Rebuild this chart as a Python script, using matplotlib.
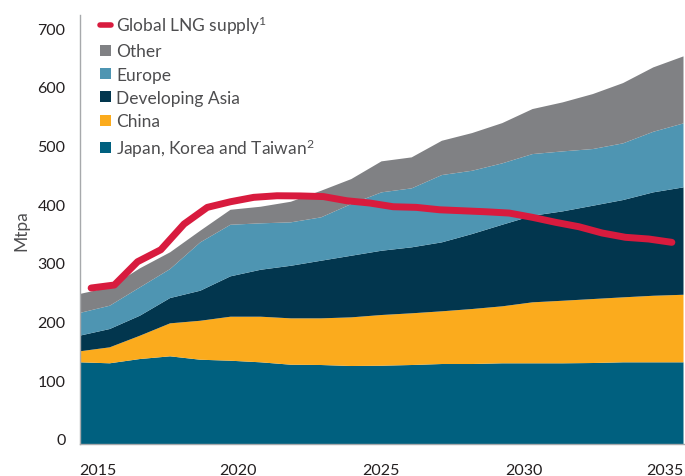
import numpy as np
import matplotlib
matplotlib.use("Agg")
import matplotlib.pyplot as plt
from matplotlib.patches import Patch
from matplotlib.lines import Line2D
from matplotlib.transforms import ScaledTranslation

plt.rcParams['font.family'] = ['Lato', 'DejaVu Sans']
plt.rcParams['mathtext.fontset'] = 'custom'
plt.rcParams['mathtext.rm'] = 'Lato'
plt.rcParams['mathtext.it'] = 'Lato'

years = list(range(2015, 2036))
japan_korea_taiwan = [139.2, 137.5, 144.8, 149.4, 143.6, 141.9, 139.2, 135.1, 134.6, 132.9,
                      133.4, 134.6, 136.3, 136.3, 137.5, 137.5, 137.5, 138.0, 139.2, 139.2, 139.2]
china = [18.7, 27.2, 39.7, 56.2, 66.4, 75.0, 77.7, 79.0, 79.5, 82.9,
         86.4, 88.1, 89.8, 93.7, 97.1, 103.9, 106.6, 109.0, 110.7, 113.4, 115.1]
developing_asia = [26.6, 31.2, 34.1, 43.1, 51.2, 68.8, 80.0, 89.6, 98.2, 105.0,
                   109.5, 112.4, 117.5, 127.8, 139.0, 147.5, 152.3, 159.0, 165.8, 176.2, 183.0]
europe = [38.7, 39.7, 48.3, 49.4, 82.4, 87.9, 79.1, 74.0, 73.9, 88.1,
          99.5, 100.5, 114.7, 107.8, 104.6, 105.1, 102.2, 96.6, 96.6, 103.2, 109.0]
other = [32.3, 31.3, 32.4, 28.5, 19.8, 25.5, 28.3, 35.1, 45.3, 42.5,
         52.8, 52.8, 58.4, 64.2, 68.6, 76.7, 83.5, 93.7, 102.7, 109.7, 114.2]
global_lng_supply = [265.8, 270.9, 310.6, 331.0, 374.8, 403.2, 412.8, 420.3, 423.0, 422.7,
                     421.6, 414.5, 410.6, 404.3, 403.2, 399.1, 397.4, 395.7, 393.5, 386.2,
                     377.7, 370.2, 359.5, 352.2, 349.3, 343.6]

y_ticks = [0, 100, 200, 300, 400, 500, 600, 700]
x_ticks = [2015, 2020, 2025, 2030, 2035]

c_jkt = '#00607f'
c_china = '#fbab1d'
c_dev = '#02364e'
c_eur = '#4e95b2'
c_other = '#808184'
c_line = '#d81b3e'
txt = '#231f20'

W, H = 685, 477
fig = plt.figure(figsize=(W/100, H/100), dpi=100)
ax = fig.add_axes([79.5/W, (H-445)/H, (683.5-79.5)/W, (445-16)/H])

ax.stackplot(years, japan_korea_taiwan, china, developing_asia, europe, other,
             colors=[c_jkt, c_china, c_dev, c_eur, c_other], linewidth=0)
ax.set_xlim(2015, 2035)
ax.set_ylim(0, 731)

ax2 = ax.twiny()
ax2.set_xlim(-0.5, len(global_lng_supply) - 0.5)
ax2.plot(np.arange(len(global_lng_supply)), global_lng_supply, color=c_line, lw=5,
         solid_capstyle='round', solid_joinstyle='round')
ax2.axis('off')
ax2.set_ylim(0, 731)

for sp in ['top', 'right']:
    ax.spines[sp].set_visible(False)
for sp in ['left', 'bottom']:
    ax.spines[sp].set_color('#a7a9ac')
    ax.spines[sp].set_linewidth(1.0)

ax.set_yticks(y_ticks)
ax.set_yticklabels([str(v) for v in y_ticks])
ax.tick_params(axis='y', length=0, pad=10, labelsize=11.5, labelcolor=txt)
for lab in ax.get_yticklabels():
    lab.set_transform(lab.get_transform() + ScaledTranslation(0, 5/100, fig.dpi_scale_trans))

ax.set_xticks(x_ticks)
ax.set_xticklabels([str(v) for v in x_ticks])
ax.tick_params(axis='x', length=0, pad=14, labelsize=11.5, labelcolor=txt)
xlabs = ax.get_xticklabels()
offsets = [0, 7, -1, -9, 0]
for lab, off in zip(xlabs, offsets):
    lab.set_transform(lab.get_transform() + ScaledTranslation(off/100, 0, fig.dpi_scale_trans))
xlabs[0].set_ha('left')
xlabs[-1].set_ha('right')

ax.set_ylabel('Mtpa', fontsize=12.5, color='#4d4d4f', labelpad=6)

handles = [
    Line2D([0], [0], color=c_line, lw=4, solid_capstyle='round'),
    Patch(facecolor=c_other),
    Patch(facecolor=c_eur),
    Patch(facecolor=c_dev),
    Patch(facecolor=c_china),
    Patch(facecolor=c_jkt),
]
labels = ['Global LNG supply$^{1}$', 'Other', 'Europe', 'Developing Asia', 'China',
          'Japan, Korea and Taiwan$^{2}$']
leg = ax.legend(handles, labels, loc='upper left', bbox_to_anchor=(0.023, 1.019),
                frameon=False, fontsize=12.5, handlelength=0.6, handleheight=0.6,
                handletextpad=0.3, labelspacing=0.42, borderaxespad=0)
for t in leg.get_texts():
    t.set_color('#4d4d4f')

fig.savefig('out.png', dpi=100)
